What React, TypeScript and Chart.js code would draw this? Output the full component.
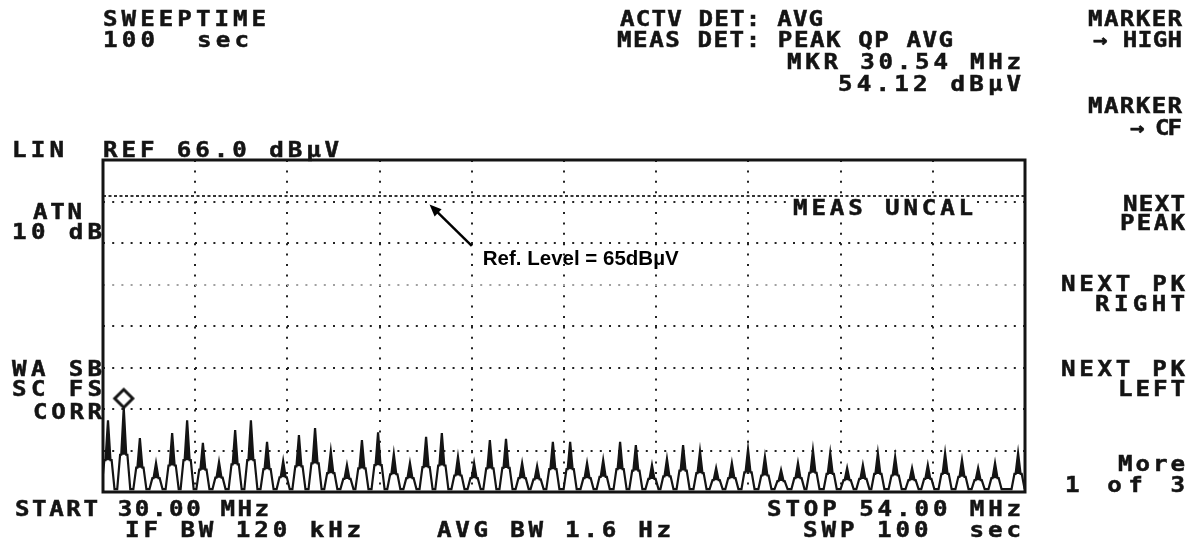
import React, { useEffect, useRef } from 'react';
import { Chart, registerables } from 'chart.js';

Chart.register(...registerables);

// ---------------- data ----------------
const START_MHZ = 30.0;
const STOP_MHZ = 54.0;
const REF_DBUV = 66.0; // top of screen (linear scale)
const REF_LEVEL_DBUV = 65; // annotated reference level
const MARKER_MHZ = 30.54;
const MARKER_DBUV = 54.12;
const NOISE_FLOOR_DBUV = 25;

const xGridMHz = [30, 32.4, 34.8, 37.2, 39.6, 42, 44.4, 46.8, 49.2, 51.6, 54];
const yDivisions = [0, 1, 2, 3, 4, 5, 6, 7, 8];

const peakFreqsMHz = [
  30.13, 30.54, 30.96, 31.38, 31.8, 32.19, 32.6, 33.02, 33.44, 33.85,
  34.27, 34.69, 35.1, 35.52, 35.93, 36.35, 36.74, 37.16, 37.57, 37.99,
  38.41, 38.82, 39.24, 39.66, 40.07, 40.49, 40.91, 41.3, 41.71, 42.16,
  42.6, 43.02, 43.46, 43.87, 44.29, 44.68, 45.1, 45.54, 45.96, 46.37,
  46.79, 47.23, 47.65, 48.09, 48.48, 48.93, 49.37, 49.78, 50.17, 50.62,
  51.06, 51.47, 51.92, 52.36, 52.78, 53.22, 53.82,
];

const peakLevelsDBuV = [
  52.7, 54.12, 50.2, 44.8, 51.0, 52.7, 49.4, 45.1, 51.4, 52.7,
  49.6, 45.4, 50.7, 51.7, 47.8, 44.2, 49.9, 51.1, 47.2, 44.8,
  50.4, 51.0, 46.5, 44.8, 49.9, 50.1, 44.8, 43.9, 49.6, 49.6,
  44.8, 45.7, 49.6, 49.0, 44.2, 46.0, 49.0, 47.8, 43.2, 44.8,
  48.2, 46.5, 42.4, 44.8, 48.0, 47.4, 43.2, 44.2, 47.4, 46.5,
  43.2, 44.2, 47.4, 45.7, 43.2, 44.8, 47.4,
];

// ---------------- trace shape (style) ----------------
const SKIRT_FRACTION = 0.42; // where the "A" crossbar sits, share of peak height
const HALF_BASE_MHZ = 0.17;
const HALF_BAR_MHZ = 0.095;
const HALF_SPIKE_MHZ = 0.065;

// ---------------- layout (text) ----------------
type Lbl = [string, number, number, number];
const MONO_LABELS: Lbl[] = [
  ['SWEEPTIME', 103, 265, 26],
  ['100  sec', 103, 248, 47],
  ['ACTV DET: AVG', 620, 822, 26],
  ['MEAS DET: PEAK QP AVG', 617, 952, 47],
  ['MKR 30.54 MHz', 787, 1020, 69],
  ['54.12 dB\u00b5V', 838, 1020, 91],
  ['MARKER', 1088, 1181, 26],
  ['\u2192 HIGH', 1093, 1181, 47],
  ['MARKER', 1088, 1181, 113],
  ['\u2192 CF', 1130, 1181, 135],
  ['LIN', 12, 63, 157],
  ['REF 66.0 dB\u00b5V', 103, 338, 157],
  ['ATN', 33, 81, 219],
  ['10 dB', 12, 101, 239],
  ['NEXT', 1123, 1184, 211],
  ['PEAK', 1120, 1184, 230],
  ['NEXT PK', 1061, 1184, 291],
  ['RIGHT', 1095, 1184, 311],
  ['WA SB', 12, 101, 376],
  ['SC FS', 12, 101, 396],
  ['CORR', 33, 101, 419],
  ['NEXT PK', 1061, 1184, 376],
  ['LEFT', 1118, 1184, 396],
  ['More', 1118, 1184, 471],
  ['1 of 3', 1065, 1184, 492],
  ['START 30.00 MHz', 15, 268, 516],
  ['IF BW 120 kHz', 125, 360, 537],
  ['AVG BW 1.6 Hz', 437, 670, 537],
  ['STOP 54.00 MHz', 767, 1020, 516],
  ['SWP 100  sec', 803, 1020, 537],
];
const UNCAL_LABEL: Lbl = ['MEAS UNCAL', 793, 972, 215];
const ANNOT_TEXT = 'Ref. Level = 65dB\u00b5V';
const ARROW_TIP = { mhz: 38.5, dbuv: 64.75 };
const ARROW_TAIL = { mhz: 39.6, dbuv: 63.4 };

const W = 1199;
const H = 546;
const MONO_SIZE = 21;
const MONO_HSCALE = 1.15;
const INK = '#141414';

const uv = (db: number) => Math.pow(10, db / 20);

function drawMono(ctx: CanvasRenderingContext2D, l: Lbl) {
  const [text, x1, x2, yb] = l;
  ctx.font = `bold ${MONO_SIZE}px "DejaVu Sans Mono", monospace`;
  ctx.textBaseline = 'alphabetic';
  ctx.textAlign = 'left';
  const chars = Array.from(text);
  const glyph = ctx.measureText('M').width * 0.92 * MONO_HSCALE;
  const pitch = chars.length > 1 ? (x2 - x1 - glyph) / (chars.length - 1) : 0;
  chars.forEach((ch, i) => {
    ctx.save();
    ctx.translate(x1 + i * pitch, yb);
    ctx.scale(MONO_HSCALE, 1);
    ctx.fillText(ch, 0, 0);
    ctx.lineWidth = 0.5;
    ctx.strokeStyle = INK;
    ctx.strokeText(ch, 0, 0);
    ctx.restore();
  });
}

function makeMarkerCanvas(): HTMLCanvasElement {
  const c = document.createElement('canvas');
  c.width = 26;
  c.height = 44;
  const g = c.getContext('2d')!;
  const cx = 13;
  const cy = 13;
  const r = 9;
  g.beginPath();
  g.moveTo(cx, cy - r);
  g.lineTo(cx + r, cy);
  g.lineTo(cx, cy + r);
  g.lineTo(cx - r, cy);
  g.closePath();
  g.fillStyle = '#fff';
  g.fill();
  g.lineWidth = 3;
  g.strokeStyle = INK;
  g.stroke();
  g.beginPath();
  g.moveTo(cx, cy + r);
  g.lineTo(cx, 23);
  g.lineWidth = 2;
  g.stroke();
  return c;
}

export default function App() {
  const ref = useRef<HTMLCanvasElement | null>(null);

  useEffect(() => {
    if (!ref.current) return;

    const floor = uv(NOISE_FLOOR_DBUV);
    const tracePts: { x: number; y: number }[] = [];
    const skirtPts: { x: number; y: number }[] = [];
    peakFreqsMHz.forEach((f, i) => {
      const p = uv(peakLevelsDBuV[i]);
      const s = floor + SKIRT_FRACTION * (p - floor);
      tracePts.push(
        { x: f - HALF_BASE_MHZ, y: floor },
        { x: f - HALF_BAR_MHZ, y: s },
        { x: f - HALF_SPIKE_MHZ, y: s },
        { x: f, y: p },
        { x: f + HALF_SPIKE_MHZ, y: s },
        { x: f + HALF_BAR_MHZ, y: s },
        { x: f + HALF_BASE_MHZ, y: floor },
      );
      skirtPts.push(
        { x: f - HALF_BASE_MHZ, y: floor },
        { x: f - HALF_BAR_MHZ, y: s },
        { x: f - HALF_SPIKE_MHZ, y: s },
        { x: f, y: s },
        { x: f + HALF_SPIKE_MHZ, y: s },
        { x: f + HALF_BAR_MHZ, y: s },
        { x: f + HALF_BASE_MHZ, y: floor },
      );
    });

    const overlay = {
      id: 'overlay',
      afterDatasetsDraw(chart: any) {
        const { ctx, chartArea: a, scales } = chart;
        ctx.save();
        // frame
        ctx.lineWidth = 3;
        ctx.strokeStyle = INK;
        ctx.strokeRect(a.left, a.top, a.right - a.left, a.bottom - a.top);
        // MEAS UNCAL with white background
        ctx.fillStyle = '#fff';
        ctx.fillRect(UNCAL_LABEL[1] - 4, UNCAL_LABEL[3] - 17, UNCAL_LABEL[2] - UNCAL_LABEL[1] + 8, 19);
        ctx.fillStyle = INK;
        drawMono(ctx, UNCAL_LABEL);
        // arrow annotation
        const tx = scales.x.getPixelForValue(ARROW_TIP.mhz);
        const ty = scales.y.getPixelForValue(uv(ARROW_TIP.dbuv));
        const sx = scales.x.getPixelForValue(ARROW_TAIL.mhz);
        const sy = scales.y.getPixelForValue(uv(ARROW_TAIL.dbuv));
        const ang = Math.atan2(ty - sy, tx - sx);
        const hl = 12;
        const hw = 5;
        ctx.strokeStyle = '#000';
        ctx.lineWidth = 2.5;
        ctx.beginPath();
        ctx.moveTo(sx, sy);
        ctx.lineTo(tx - Math.cos(ang) * hl * 0.8, ty - Math.sin(ang) * hl * 0.8);
        ctx.stroke();
        ctx.fillStyle = '#000';
        ctx.beginPath();
        ctx.moveTo(tx, ty);
        ctx.lineTo(tx - Math.cos(ang) * hl + Math.sin(ang) * hw, ty - Math.sin(ang) * hl - Math.cos(ang) * hw);
        ctx.lineTo(tx - Math.cos(ang) * hl - Math.sin(ang) * hw, ty - Math.sin(ang) * hl + Math.cos(ang) * hw);
        ctx.closePath();
        ctx.fill();
        ctx.font = 'bold 20.5px "Liberation Sans", Arial, sans-serif';
        ctx.textAlign = 'left';
        ctx.textBaseline = 'alphabetic';
        ctx.fillText(ANNOT_TEXT, sx + 11, sy + 19);
        ctx.restore();
      },
      afterDraw(chart: any) {
        const { ctx } = chart;
        ctx.save();
        ctx.fillStyle = INK;
        MONO_LABELS.forEach((l) => drawMono(ctx, l));
        ctx.restore();
      },
    };

    const yMax = uv(REF_DBUV);

    const chart = new Chart(ref.current, {
      type: 'line',
      data: {
        datasets: [
          {
            label: 'Ref level',
            data: [
              { x: START_MHZ, y: uv(REF_LEVEL_DBUV) },
              { x: STOP_MHZ, y: uv(REF_LEVEL_DBUV) },
            ],
            borderColor: '#333',
            borderWidth: 2,
            borderDash: [3, 2.5],
            pointRadius: 0,
            fill: false,
          },
          {
            label: 'Skirt',
            data: skirtPts,
            borderColor: 'rgba(0,0,0,0)',
            borderWidth: 0,
            pointRadius: 0,
            tension: 0,
            fill: false,
          },
          {
            label: 'Trace',
            data: tracePts,
            borderColor: INK,
            backgroundColor: INK,
            borderWidth: 2.2,
            pointRadius: 0,
            tension: 0,
            fill: '-1',
          },
          {
            label: 'Marker',
            data: [{ x: MARKER_MHZ, y: uv(MARKER_DBUV) }],
            showLine: false,
            pointStyle: makeMarkerCanvas(),
            pointRadius: 10,
            clip: false as any,
          },
        ],
      },
      options: {
        responsive: false,
        animation: false,
        devicePixelRatio: 1,
        events: [],
        layout: { padding: { left: 103, top: 160, right: W - 1025, bottom: H - 492 } },
        plugins: {
          legend: { display: false },
          tooltip: { enabled: false },
          title: { display: false },
          filler: { propagate: false },
        },
        scales: {
          x: {
            type: 'linear',
            min: START_MHZ,
            max: STOP_MHZ,
            afterBuildTicks: (s: any) => {
              s.ticks = xGridMHz.map((v) => ({ value: v }));
            },
            ticks: { display: false },
            grid: { color: '#222', lineWidth: 2, drawTicks: false },
            border: { display: false, dash: [2, 8.4] },
          },
          y: {
            type: 'linear',
            min: 0,
            max: yMax,
            afterBuildTicks: (s: any) => {
              s.ticks = yDivisions.map((d) => ({ value: (yMax * d) / 8 }));
            },
            ticks: { display: false },
            grid: {
              color: (c: any) => (c.index === 5 ? '#a0a0a0' : '#222'),
              lineWidth: 2,
              drawTicks: false,
            },
            border: { display: false, dash: [2, 7.2] },
          },
        },
      },
      plugins: [overlay],
    } as any);

    return () => chart.destroy();
  }, []);

  return (
    <div style={{ position: 'absolute', left: 0, top: 0, width: W, height: H, background: '#fff' }}>
      <canvas ref={ref} width={W} height={H} style={{ width: W, height: H, display: 'block' }} />
    </div>
  );
}
